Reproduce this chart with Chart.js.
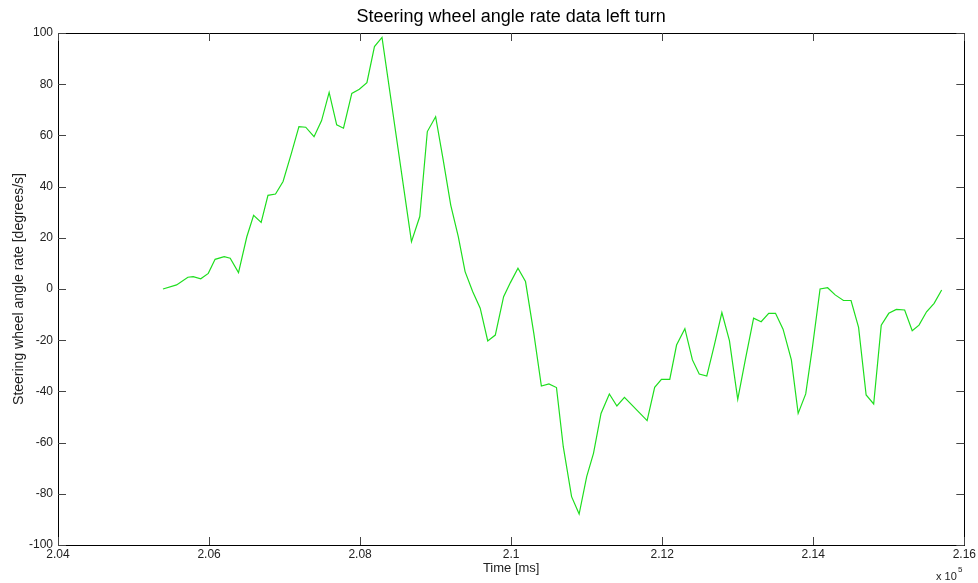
<!DOCTYPE html>
<html>
<head>
<meta charset="utf-8">
<script src="https://cdn.jsdelivr.net/npm/chart.js@4"></script>
<style>
  html, body { margin: 0; padding: 0; background: #fff; }
  #wrap { width: 978px; height: 583px; }
</style>
</head>
<body>
<div id="wrap"><canvas id="steerChart" width="978" height="583"></canvas></div>
<script>
// time in ms, sampled roughly every 100 ms
var timeMs = [
  205390, 205570, 205720, 205790, 205890, 205990, 206080, 206200, 206280, 206390,
  206500, 206590, 206690, 206780, 206880, 206980, 207090, 207190, 207280, 207390,
  207490, 207590, 207690, 207780, 207890, 207990, 208090, 208190, 208290, 208680,
  208790, 208890, 209000, 209100, 209200, 209300, 209390, 209490, 209590, 209690,
  209790, 209900, 209990, 210090, 210190, 210300, 210400, 210500, 210600, 210690,
  210800, 210900, 211000, 211090, 211190, 211300, 211400, 211500, 211800, 211900,
  211990, 212100, 212190, 212300, 212400, 212490, 212590, 212690, 212790, 212890,
  213000, 213100, 213210, 213310, 213410, 213500, 213600, 213710, 213800, 213900,
  213990, 214090, 214190, 214290, 214400, 214500, 214600, 214700, 214800, 214900,
  215000, 215100, 215210, 215310, 215400, 215500, 215600, 215700
];
var angleRate = [
  0, 1.6, 4.6, 4.8, 4.0, 6.1, 11.6, 12.6, 12.0, 6.4,
  20.4, 28.8, 26.0, 36.6, 37.1, 42.0, 53.0, 63.4, 63.2, 59.5,
  65.8, 76.8, 64.1, 62.8, 76.4, 78.0, 80.6, 94.7, 98.3, 18.5,
  28.3, 61.5, 67.3, 50.4, 32.8, 20.5, 6.8, -1.0, -7.5, -20.3,
  -18.0, -3.0, 2.5, 8.1, 2.9, -17.3, -37.9, -37.1, -38.5, -61.6,
  -81.1, -87.9, -73.3, -64.2, -48.6, -41.0, -45.7, -42.3, -51.4, -38.4,
  -35.3, -35.3, -21.9, -15.5, -27.7, -33.2, -34.0, -21.9, -9.2, -20.2,
  -43.1, -27.7, -11.4, -12.8, -9.5, -9.5, -15.7, -27.7, -48.6, -41.0,
  -22.5, 0, 0.5, -2.3, -4.5, -4.5, -15.0, -41.4, -44.9, -14.1,
  -9.5, -8.0, -8.2, -16.3, -14.1, -8.9, -5.6, -0.4
];
var xTickValues = [204000, 206000, 208000, 210000, 212000, 214000, 216000];
var xTickLabels = ['2.04', '2.06', '2.08', '2.1', '2.12', '2.14', '2.16'];
var yTickValues = [-100, -80, -60, -40, -20, 0, 20, 40, 60, 80, 100];

var titleText = 'Steering wheel angle rate data left turn';
var xTitle = 'Time [ms]';
var yTitle = 'Steering wheel angle rate [degrees/s]';

var points = timeMs.map(function (t, i) { return { x: t, y: angleRate[i] }; });

var fontFam = '"Liberation Sans", Arial, Helvetica, sans-serif';

// matlab style frame, inward ticks and texts
var matlabFrame = {
  id: 'matlabFrame',
  afterDraw: function (chart) {
    var c = chart.ctx, a = chart.chartArea;
    var xs = chart.scales.x, ys = chart.scales.y;
    c.save();
    c.strokeStyle = '#000';
    c.lineWidth = 1;
    c.strokeRect(Math.round(a.left) + 0.5, Math.round(a.top) + 0.5,
      Math.round(a.right - a.left), Math.round(a.bottom - a.top));
    c.strokeStyle = '#444';
    c.beginPath();
    xTickValues.forEach(function (v) {
      var px = Math.round(xs.getPixelForValue(v)) + 0.5;
      c.moveTo(px, a.bottom); c.lineTo(px, a.bottom - 8);
      c.moveTo(px, a.top); c.lineTo(px, a.top + 8);
    });
    yTickValues.forEach(function (v) {
      var py = Math.round(ys.getPixelForValue(v)) + 0.5;
      c.moveTo(a.left, py); c.lineTo(a.left + 8, py);
      c.moveTo(a.right, py); c.lineTo(a.right - 8, py);
    });
    c.stroke();

    c.fillStyle = '#000';
    c.textAlign = 'center';
    c.textBaseline = 'alphabetic';
    c.font = '18px ' + fontFam;
    c.fillText(titleText, (a.left + a.right) / 2, 22);

    c.font = '13px ' + fontFam;
    c.fillStyle = '#222';
    c.fillText(xTitle, (a.left + a.right) / 2, 572);
    c.textAlign = 'left';
    c.font = '11px ' + fontFam;
    c.fillText('x 10', 936, 580);
    c.font = '8px ' + fontFam;
    c.fillText('5', 958, 572);

    c.font = '14px ' + fontFam;
    c.translate(23, (a.top + a.bottom) / 2);
    c.rotate(-Math.PI / 2);
    c.textAlign = 'center';
    c.fillText(yTitle, 0, 0);
    c.restore();
  }
};

var ctx = document.getElementById('steerChart').getContext('2d');
var steerChart = new Chart(ctx, {
  type: 'line',
  data: {
    datasets: [{
      label: 'angle rate',
      data: points,
      borderColor: 'rgb(30, 222, 30)',
      borderWidth: 1.2,
      pointRadius: 0,
      tension: 0,
      fill: false
    }]
  },
  options: {
    responsive: false,
    animation: false,
    events: [],
    layout: { padding: { top: 33, right: 13, left: 0, bottom: 0 } },
    plugins: { legend: { display: false }, title: { display: false }, tooltip: { enabled: false } },
    scales: {
      x: {
        type: 'linear',
        min: 204000,
        max: 216000,
        grid: { display: false, drawTicks: false, tickLength: 0 },
        border: { display: false },
        afterBuildTicks: function (s) { s.ticks = xTickValues.map(function (v) { return { value: v }; }); },
        afterFit: function (s) { s.height = 38; },
        ticks: {
          padding: 2,
          maxRotation: 0,
          autoSkip: false,
          color: '#222',
          font: { family: fontFam, size: 12 },
          callback: function (v) { return xTickLabels[xTickValues.indexOf(v)]; }
        }
      },
      y: {
        min: -100,
        max: 100,
        grid: { display: false, drawTicks: false, tickLength: 0 },
        border: { display: false },
        afterBuildTicks: function (s) { s.ticks = yTickValues.map(function (v) { return { value: v }; }); },
        afterFit: function (s) { s.width = 58; },
        ticks: {
          padding: 5,
          autoSkip: false,
          color: '#222',
          font: { family: fontFam, size: 12 }
        }
      }
    }
  },
  plugins: [matlabFrame]
});
</script>
</body>
</html>
